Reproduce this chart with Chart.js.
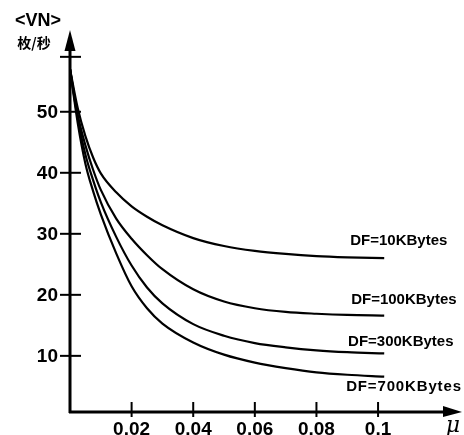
<!DOCTYPE html>
<html>
<head>
<meta charset="utf-8">
<script src="https://cdn.jsdelivr.net/npm/chart.js@4/dist/chart.umd.min.js"></script>
<style>
  html, body { margin: 0; padding: 0; background: #fff; }
  #wrap { width: 464px; height: 435px; }
</style>
</head>
<body>
<div id="wrap"><canvas id="vnChart" width="464" height="435"></canvas></div>
<script>
// values
const mu = [0, 0.0025, 0.005, 0.0075, 0.01, 0.015, 0.02, 0.025, 0.03, 0.04, 0.05, 0.06, 0.07, 0.08, 0.09, 0.102];
const vn10K  = [57, 50.6, 46.0, 42.5, 39.9, 36.8, 34.5, 32.8, 31.4, 29.3, 28.0, 27.2, 26.7, 26.35, 26.15, 26.0];
const vn100K = [57, 49.5, 44.5, 40.5, 37.2, 32.5, 29.2, 26.5, 24.2, 20.9, 18.9, 17.8, 17.2, 16.9, 16.7, 16.6];
const vn300K = [57, 49.0, 43.0, 38.8, 35.2, 29.5, 24.8, 21.2, 18.6, 15.2, 13.3, 12.1, 11.4, 10.9, 10.6, 10.4];
const vn700K = [57, 48.2, 41.5, 37.0, 33.2, 26.8, 21.4, 17.8, 15.3, 12.2, 10.2, 8.9, 8.0, 7.3, 6.9, 6.6];
const seriesLabels = ['DF=10KBytes', 'DF=100KBytes', 'DF=300KBytes', 'DF=700KBytes'];
const yTicks = [10, 20, 30, 40, 50];
const xTicks = [0.02, 0.04, 0.06, 0.08, 0.1];
const xTickLabels = ['0.02', '0.04', '0.06', '0.08', '0.1'];

const allSeries = [vn10K, vn100K, vn300K, vn700K];

// where each curve label sits (value coords) - layout only
const labelPos = [
  { x: 0.1225, y: 28.9, sp: 0 },
  { x: 0.1255, y: 19.2, sp: 0 },
  { x: 0.1245, y: 12.3, sp: 0 },
  { x: 0.1272, y: 4.9, sp: 0.85 }
];

const axesPlugin = {
  id: 'arrowAxes',
  afterDatasetsDraw(chart) {
    const ctx = chart.ctx;
    const xs = chart.scales.x, ys = chart.scales.y;
    const area = chart.chartArea;
    const ox = xs.getPixelForValue(0);
    const oy = area.bottom;
    ctx.save();
    ctx.strokeStyle = '#000';
    ctx.fillStyle = '#000';

    // axis lines
    ctx.lineWidth = 3;
    ctx.beginPath();
    ctx.moveTo(ox, oy + 1);
    ctx.lineTo(ox, area.top + 14);
    ctx.moveTo(ox - 1, oy);
    ctx.lineTo(area.right - 14, oy);
    ctx.stroke();

    // arrow heads
    ctx.beginPath();
    ctx.moveTo(ox, area.top);
    ctx.lineTo(ox - 5.5, area.top + 21);
    ctx.lineTo(ox + 5.5, area.top + 21);
    ctx.closePath();
    ctx.fill();
    ctx.beginPath();
    ctx.moveTo(area.right + 2, oy);
    ctx.lineTo(area.right - 17, oy - 6);
    ctx.lineTo(area.right - 17, oy + 5);
    ctx.closePath();
    ctx.fill();

    // y ticks
    ctx.lineWidth = 2;
    ctx.font = 'bold 19px "Liberation Sans", Arial, sans-serif';
    ctx.textAlign = 'right';
    ctx.textBaseline = 'middle';
    yTicks.forEach(v => {
      const py = ys.getPixelForValue(v);
      ctx.beginPath();
      ctx.moveTo(ox - 10, py);
      ctx.lineTo(ox + 11, py);
      ctx.stroke();
      ctx.fillText(String(v), ox - 12, py + 1);
    });
    const topTick = ys.getPixelForValue(59);
    ctx.beginPath();
    ctx.moveTo(ox - 10, topTick);
    ctx.lineTo(ox + 11, topTick);
    ctx.stroke();

    // x ticks
    ctx.textAlign = 'center';
    xTicks.forEach((v, i) => {
      const px = xs.getPixelForValue(v);
      ctx.beginPath();
      ctx.moveTo(px, oy - 10);
      ctx.lineTo(px, oy + 5);
      ctx.stroke();
      ctx.fillText(xTickLabels[i], px, oy + 18);
    });

    // axis titles
    ctx.font = 'bold 18px "Liberation Sans", Arial, sans-serif';
    ctx.fillText('<VN>', 38, 21);
    ctx.font = 'bold 14px "Noto Sans CJK SC", sans-serif';
    ctx.fillText('枚/秒', 34, 43);
    ctx.font = 'italic 22px "DejaVu Serif", serif';
    ctx.fillText('μ', 453, 426);

    // curve labels
    ctx.font = 'bold 15px "Liberation Sans", Arial, sans-serif';
    ctx.textAlign = 'right';
    seriesLabels.forEach((t, i) => {
      ctx.letterSpacing = labelPos[i].sp + 'px';
      ctx.fillText(t, xs.getPixelForValue(labelPos[i].x), ys.getPixelForValue(labelPos[i].y));
    });
    ctx.letterSpacing = '0px';
    ctx.restore();
  }
};

const datasets = allSeries.map((vals, i) => ({
  label: seriesLabels[i],
  data: mu.map((m, j) => ({ x: m, y: vals[j] })),
  borderColor: '#000',
  borderWidth: 2.2,
  pointRadius: 0,
  fill: false,
  cubicInterpolationMode: 'monotone'
}));

new Chart(document.getElementById('vnChart').getContext('2d'), {
  type: 'line',
  data: { datasets: datasets },
  options: {
    responsive: false,
    animation: false,
    layout: { padding: { left: 70, right: 4, top: 30, bottom: 23 } },
    plugins: { legend: { display: false }, tooltip: { enabled: false } },
    scales: {
      x: { type: 'linear', min: 0, max: 0.1266, display: false },
      y: { type: 'linear', min: 0.8, max: 63.4, display: false }
    }
  },
  plugins: [axesPlugin]
});
</script>
</body>
</html>
